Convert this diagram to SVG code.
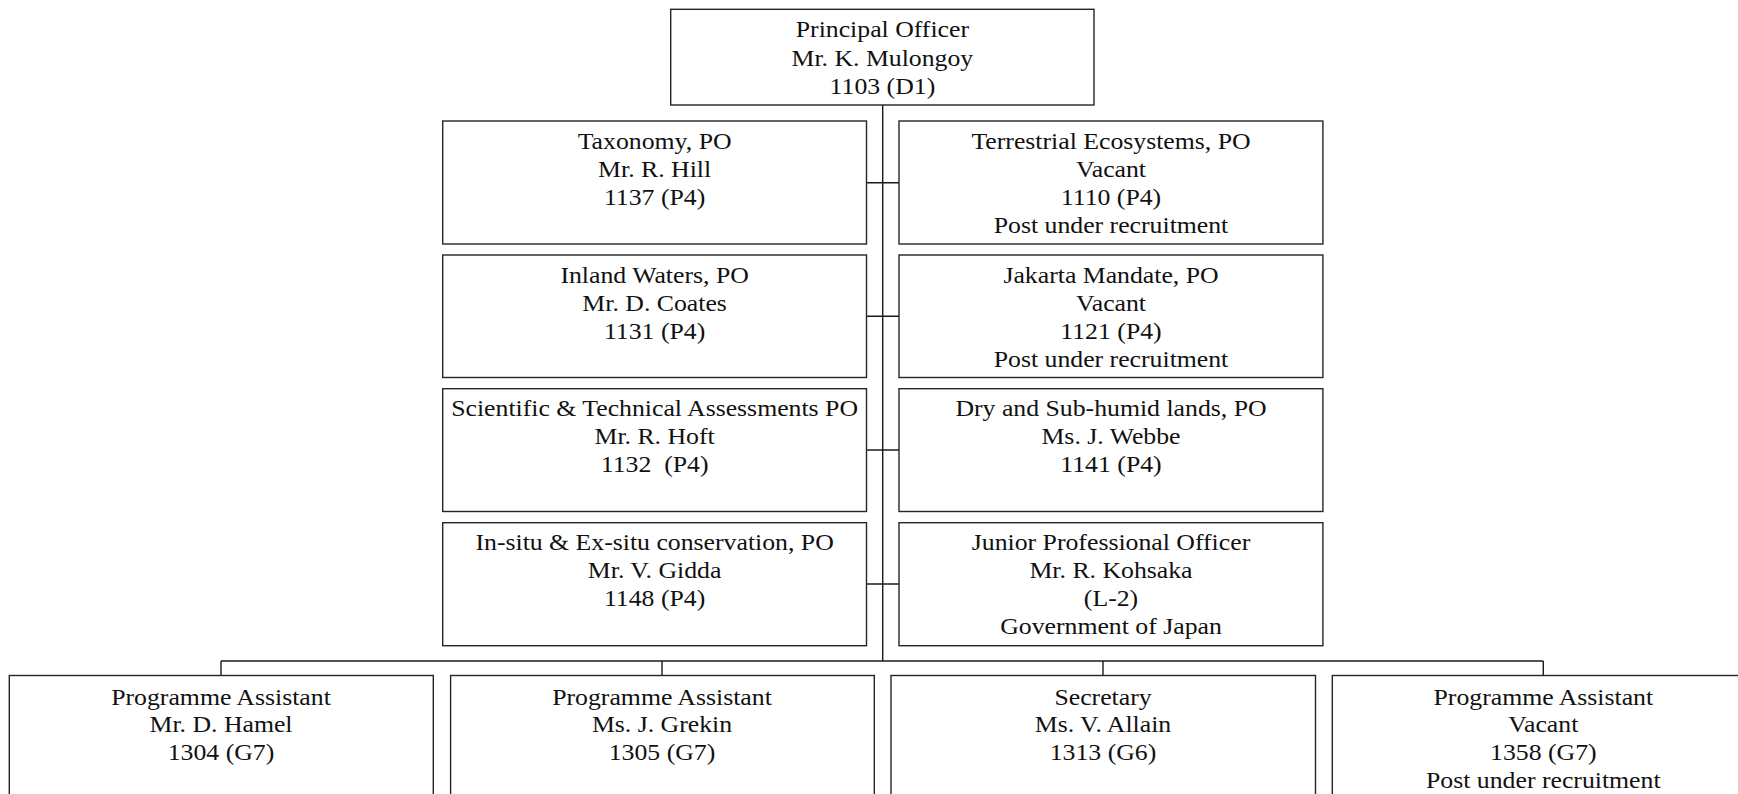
<svg xmlns="http://www.w3.org/2000/svg" width="1738" height="794" viewBox="0 0 1738 794">
<style>
  .box { fill: #ffffff; stroke: #262626; stroke-width: 1.4; }
  .conn { fill: none; stroke: #1a1a1a; stroke-width: 1.4; }
  .lbl { font-family: "Liberation Serif", "Times New Roman", serif; font-size: 22.7px; fill: #111111; text-anchor: middle; }
</style>
<rect x="0" y="0" width="1738" height="794" fill="#ffffff"/>
<g id="connectors">
  <line class="conn" x1="882.7" y1="105" x2="882.7" y2="661"/>
  <line class="conn" x1="866.5" y1="182.7" x2="899" y2="182.7"/>
  <line class="conn" x1="866.5" y1="316.3" x2="899" y2="316.3"/>
  <line class="conn" x1="866.5" y1="450" x2="899" y2="450"/>
  <line class="conn" x1="866.5" y1="584" x2="899" y2="584"/>
  <line class="conn" x1="221" y1="661" x2="1543.3" y2="661"/>
  <line class="conn" x1="221" y1="661" x2="221" y2="675"/>
  <line class="conn" x1="662" y1="661" x2="662" y2="675"/>
  <line class="conn" x1="1103" y1="661" x2="1103" y2="675"/>
  <line class="conn" x1="1543.3" y1="661" x2="1543.3" y2="675"/>
</g>
<g id="node-principal">
  <rect class="box" x="670.7" y="9.3" width="423.3" height="95.7"/>
  <text class="lbl" transform="translate(882.4,37.3) scale(1.135,1)"><tspan x="0" y="0">Principal Officer</tspan><tspan x="0" y="28.5">Mr. K. Mulongoy</tspan><tspan x="0" y="57">1103 (D1)</tspan></text>
</g>
<g id="node-taxonomy">
  <rect class="box" x="442.7" y="121" width="423.8" height="123"/>
  <text class="lbl" transform="translate(654.6,148.8) scale(1.135,1)"><tspan x="0" y="0">Taxonomy, PO</tspan><tspan x="0" y="28.2">Mr. R. Hill</tspan><tspan x="0" y="56.4">1137 (P4)</tspan></text>
</g>
<g id="node-terrestrial">
  <rect class="box" x="899" y="121" width="423.9" height="123"/>
  <text class="lbl" transform="translate(1111,148.8) scale(1.135,1)"><tspan x="0" y="0">Terrestrial Ecosystems, PO</tspan><tspan x="0" y="28.2">Vacant</tspan><tspan x="0" y="56.4">1110 (P4)</tspan><tspan x="0" y="84.6">Post under recruitment</tspan></text>
</g>
<g id="node-inland">
  <rect class="box" x="442.7" y="255" width="423.8" height="122.5"/>
  <text class="lbl" transform="translate(654.6,282.6) scale(1.135,1)"><tspan x="0" y="0">Inland Waters, PO</tspan><tspan x="0" y="28.2">Mr. D. Coates</tspan><tspan x="0" y="56.4">1131 (P4)</tspan></text>
</g>
<g id="node-jakarta">
  <rect class="box" x="899" y="255" width="423.9" height="122.5"/>
  <text class="lbl" transform="translate(1111,282.6) scale(1.135,1)"><tspan x="0" y="0">Jakarta Mandate, PO</tspan><tspan x="0" y="28.2">Vacant</tspan><tspan x="0" y="56.4">1121 (P4)</tspan><tspan x="0" y="84.6">Post under recruitment</tspan></text>
</g>
<g id="node-scientific">
  <rect class="box" x="442.7" y="388.7" width="423.8" height="122.8"/>
  <text class="lbl" xml:space="preserve" style="white-space:pre" transform="translate(654.6,416) scale(1.135,1)"><tspan x="0" y="0">Scientific &amp; Technical Assessments PO</tspan><tspan x="0" y="28.2">Mr. R. Hoft</tspan><tspan x="0" y="56.4">1132  (P4)</tspan></text>
</g>
<g id="node-dry">
  <rect class="box" x="899" y="388.7" width="423.9" height="122.8"/>
  <text class="lbl" transform="translate(1111,416) scale(1.135,1)"><tspan x="0" y="0">Dry and Sub-humid lands, PO</tspan><tspan x="0" y="28.2">Ms. J. Webbe</tspan><tspan x="0" y="56.4">1141 (P4)</tspan></text>
</g>
<g id="node-insitu">
  <rect class="box" x="442.7" y="522.7" width="423.8" height="123"/>
  <text class="lbl" transform="translate(654.6,550) scale(1.135,1)"><tspan x="0" y="0">In-situ &amp; Ex-situ conservation, PO</tspan><tspan x="0" y="28">Mr. V. Gidda</tspan><tspan x="0" y="56">1148 (P4)</tspan></text>
</g>
<g id="node-jpo">
  <rect class="box" x="899" y="522.7" width="423.9" height="123"/>
  <text class="lbl" transform="translate(1111,550) scale(1.135,1)"><tspan x="0" y="0">Junior Professional Officer</tspan><tspan x="0" y="28">Mr. R. Kohsaka</tspan><tspan x="0" y="56">(L-2)</tspan><tspan x="0" y="84">Government of Japan</tspan></text>
</g>
<g id="node-hamel">
  <rect class="box" x="9.3" y="675.5" width="424" height="130"/>
  <text class="lbl" transform="translate(221,704.5) scale(1.135,1)"><tspan x="0" y="0">Programme Assistant</tspan><tspan x="0" y="28">Mr. D. Hamel</tspan><tspan x="0" y="56">1304 (G7)</tspan></text>
</g>
<g id="node-grekin">
  <rect class="box" x="450.6" y="675.5" width="423.7" height="130"/>
  <text class="lbl" transform="translate(662,704.5) scale(1.135,1)"><tspan x="0" y="0">Programme Assistant</tspan><tspan x="0" y="28">Ms. J. Grekin</tspan><tspan x="0" y="56">1305 (G7)</tspan></text>
</g>
<g id="node-allain">
  <rect class="box" x="891" y="675.5" width="424.5" height="130"/>
  <text class="lbl" transform="translate(1103,704.5) scale(1.135,1)"><tspan x="0" y="0">Secretary</tspan><tspan x="0" y="28">Ms. V. Allain</tspan><tspan x="0" y="56">1313 (G6)</tspan></text>
</g>
<g id="node-vacant-pa">
  <rect class="box" x="1332.3" y="675.5" width="424" height="130"/>
  <text class="lbl" transform="translate(1543.3,704.5) scale(1.135,1)"><tspan x="0" y="0">Programme Assistant</tspan><tspan x="0" y="28">Vacant</tspan><tspan x="0" y="56">1358 (G7)</tspan><tspan x="0" y="84">Post under recruitment</tspan></text>
</g>
</svg>
